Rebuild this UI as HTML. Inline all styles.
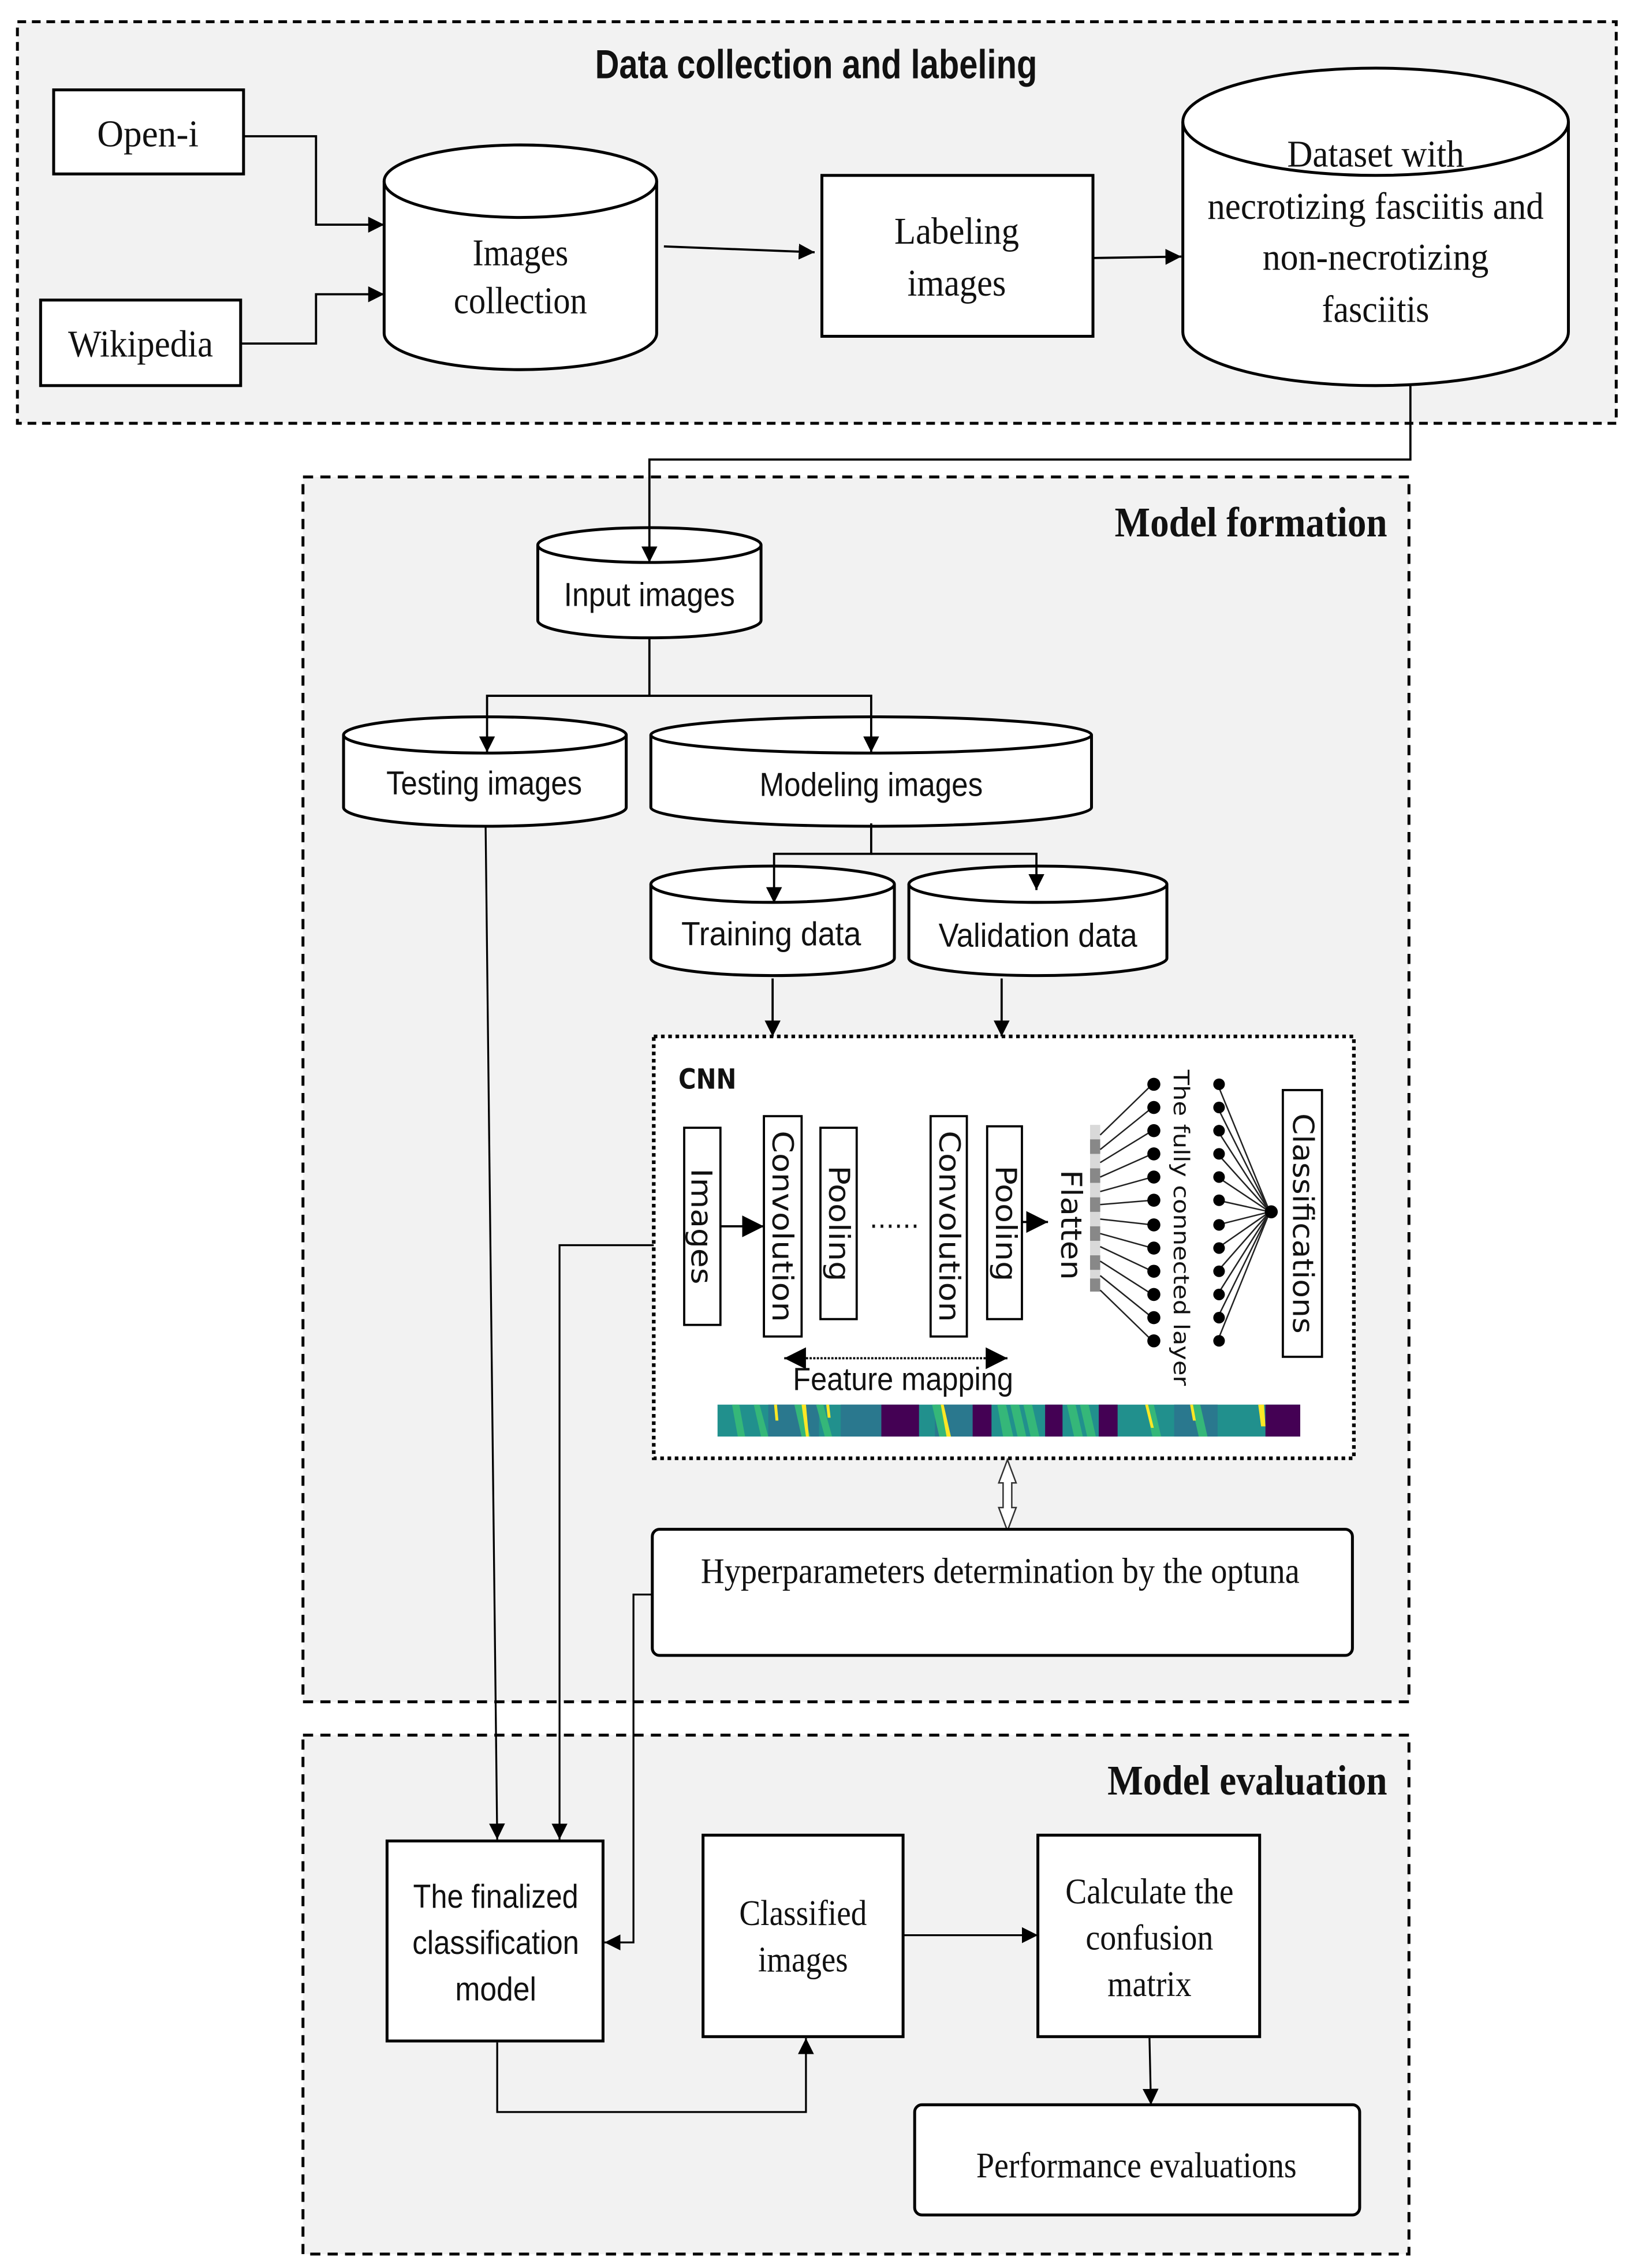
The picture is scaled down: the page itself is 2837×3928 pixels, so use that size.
<!DOCTYPE html>
<html><head><meta charset="utf-8"><style>
html,body{margin:0;padding:0;background:#fff;}
svg{display:block;}
.s{font-family:"Liberation Serif",serif;fill:#111;}
.n{font-family:"Liberation Sans Narrow","Liberation Sans",sans-serif;fill:#111;}
.d{font-family:"DejaVu Sans","Liberation Sans",sans-serif;fill:#111;}
</style></head><body>
<svg width="2837" height="3928" viewBox="0 0 1130 1564.6" xmlns="http://www.w3.org/2000/svg">
<defs>
<marker id="a" viewBox="0 0 10 10" refX="10" refY="5" markerWidth="11" markerHeight="13" markerUnits="userSpaceOnUse" orient="auto"><path d="M0,0 L10,5 L0,10 z" fill="#000"/></marker>
<marker id="b" viewBox="0 0 10 10" refX="10" refY="5" markerWidth="15" markerHeight="17" markerUnits="userSpaceOnUse" orient="auto"><path d="M0,0 L10,5 L0,10 z" fill="#000"/></marker>
<marker id="bs" viewBox="0 0 10 10" refX="0" refY="5" markerWidth="15" markerHeight="17" markerUnits="userSpaceOnUse" orient="auto"><path d="M10,0 L0,5 L10,10 z" fill="#000"/></marker>
</defs>

<!-- Panels -->
<rect x="12" y="15" width="1103" height="277" fill="#f2f2f2" stroke="#000" stroke-width="2" stroke-dasharray="6,4"/>
<rect x="209" y="329" width="763" height="845" fill="#f2f2f2" stroke="#000" stroke-width="2" stroke-dasharray="7,5"/>
<rect x="209" y="1197" width="763" height="358" fill="#f2f2f2" stroke="#000" stroke-width="2" stroke-dasharray="7,5"/>

<text class="n" x="563" y="54" font-size="28" font-weight="bold" text-anchor="middle" textLength="305" lengthAdjust="spacingAndGlyphs">Data collection and labeling</text>
<text class="s" x="957" y="370" font-size="29" font-weight="bold" text-anchor="end" textLength="188" lengthAdjust="spacingAndGlyphs">Model formation</text>
<text class="s" x="957" y="1238" font-size="29" font-weight="bold" text-anchor="end" textLength="193" lengthAdjust="spacingAndGlyphs">Model evaluation</text>

<!-- Panel 1 -->
<rect x="37" y="62" width="131" height="58" fill="#fff" stroke="#000" stroke-width="2"/>
<text class="s" x="102" y="101" font-size="26" text-anchor="middle" textLength="70" lengthAdjust="spacingAndGlyphs">Open-i</text>
<rect x="28" y="207" width="138" height="59" fill="#fff" stroke="#000" stroke-width="2"/>
<text class="s" x="97" y="246" font-size="26" text-anchor="middle" textLength="100" lengthAdjust="spacingAndGlyphs">Wikipedia</text>

<path d="M265,125 V230 A94,25 0 0 0 453,230 V125" fill="#fff" stroke="#000" stroke-width="2"/>
<ellipse cx="359" cy="125" rx="94" ry="25" fill="#fff" stroke="#000" stroke-width="2"/>
<text class="s" x="359" y="183" font-size="26" text-anchor="middle" textLength="66" lengthAdjust="spacingAndGlyphs">Images</text>
<text class="s" x="359" y="216" font-size="26" text-anchor="middle" textLength="92" lengthAdjust="spacingAndGlyphs">collection</text>

<rect x="567" y="121" width="187" height="111" fill="#fff" stroke="#000" stroke-width="2"/>
<text class="s" x="660" y="168" font-size="26" text-anchor="middle" textLength="86" lengthAdjust="spacingAndGlyphs">Labeling</text>
<text class="s" x="660" y="204" font-size="26" text-anchor="middle" textLength="68" lengthAdjust="spacingAndGlyphs">images</text>

<path d="M816,84 V229 A133,37 0 0 0 1082,229 V84" fill="#fff" stroke="#000" stroke-width="2"/>
<ellipse cx="949" cy="84" rx="133" ry="37" fill="#fff" stroke="#000" stroke-width="2"/>
<text class="s" x="949" y="115" font-size="26" text-anchor="middle" textLength="122" lengthAdjust="spacingAndGlyphs">Dataset with</text>
<text class="s" x="949" y="151" font-size="26" text-anchor="middle" textLength="232" lengthAdjust="spacingAndGlyphs">necrotizing fasciitis and</text>
<text class="s" x="949" y="186" font-size="26" text-anchor="middle" textLength="156" lengthAdjust="spacingAndGlyphs">non-necrotizing</text>
<text class="s" x="949" y="222" font-size="26" text-anchor="middle" textLength="74" lengthAdjust="spacingAndGlyphs">fasciitis</text>

<g fill="none" stroke="#000" stroke-width="1.5">
<path d="M168,94 H218 V155 H265" marker-end="url(#a)"/>
<path d="M166,237 H218 V203 H265" marker-end="url(#a)"/>
<path d="M458,170 L562,174" marker-end="url(#a)"/>
<path d="M754,178 L815,177" marker-end="url(#a)"/>
</g>

<!-- Panel 2 cylinders -->
<g fill="#fff" stroke="#000" stroke-width="2">
<path d="M371,376 V428 A77,12 0 0 0 525,428 V376"/><ellipse cx="448" cy="376" rx="77" ry="12"/>
<path d="M237,507 V557 A97.5,13 0 0 0 432,557 V507"/><ellipse cx="334.5" cy="507" rx="97.5" ry="12.5"/>
<path d="M449,507 V557 A152,13 0 0 0 753,557 V507"/><ellipse cx="601" cy="507" rx="152" ry="12.5"/>
<path d="M449,610 V661 A84,12 0 0 0 617,661 V610"/><ellipse cx="533" cy="610" rx="84" ry="12.5"/>
<path d="M627,610 V661 A89,12 0 0 0 805,661 V610"/><ellipse cx="716" cy="610" rx="89" ry="12.5"/>
</g>
<text class="n" x="448" y="418" font-size="23" text-anchor="middle" textLength="118" lengthAdjust="spacingAndGlyphs">Input images</text>
<text class="n" x="334" y="548" font-size="23" text-anchor="middle" textLength="135" lengthAdjust="spacingAndGlyphs">Testing images</text>
<text class="n" x="601" y="549" font-size="23" text-anchor="middle" textLength="154" lengthAdjust="spacingAndGlyphs">Modeling images</text>
<text class="n" x="532" y="652" font-size="23" text-anchor="middle" textLength="124" lengthAdjust="spacingAndGlyphs">Training  data</text>
<text class="n" x="716" y="653" font-size="23" text-anchor="middle" textLength="137" lengthAdjust="spacingAndGlyphs">Validation data</text>

<g fill="none" stroke="#000" stroke-width="1.5">
<path d="M973,266 V317 H448 V388" marker-end="url(#a)"/>
<path d="M448,440 V480 H336 V519" marker-end="url(#a)"/>
<path d="M448,480 H601 V519" marker-end="url(#a)"/>
<path d="M601,568 V589 H534 V623" marker-end="url(#a)"/>
<path d="M601,589 H715 V614" marker-end="url(#a)"/>
<path d="M533,675 V715" marker-end="url(#a)"/>
<path d="M691,675 V715" marker-end="url(#a)"/>
</g>

<!-- CNN box -->
<rect x="451" y="715" width="483" height="291" fill="#fff" stroke="#000" stroke-width="2.5" stroke-dasharray="2.5,2.5"/>
<text class="d" x="468" y="751" font-size="19" font-weight="bold" textLength="40" lengthAdjust="spacingAndGlyphs">CNN</text>
<g fill="#fff" stroke="#000" stroke-width="1.5">
<rect x="472" y="778" width="25" height="136"/>
<rect x="527" y="770" width="26" height="152"/>
<rect x="566" y="778" width="25" height="132"/>
<rect x="642" y="770" width="25" height="152"/>
<rect x="681" y="777" width="24" height="133"/>
<rect x="885" y="752" width="27" height="184"/>
</g>
<g class="d" font-size="20">
<text transform="translate(484,846) rotate(90)" text-anchor="middle" dominant-baseline="central" textLength="80" lengthAdjust="spacingAndGlyphs">Images</text>
<text transform="translate(540,846) rotate(90)" text-anchor="middle" dominant-baseline="central" textLength="132" lengthAdjust="spacingAndGlyphs">Convolution</text>
<text transform="translate(579,844) rotate(90)" text-anchor="middle" dominant-baseline="central" textLength="80" lengthAdjust="spacingAndGlyphs">Pooling</text>
<text transform="translate(655,846) rotate(90)" text-anchor="middle" dominant-baseline="central" textLength="132" lengthAdjust="spacingAndGlyphs">Convolution</text>
<text transform="translate(694,844) rotate(90)" text-anchor="middle" dominant-baseline="central" textLength="80" lengthAdjust="spacingAndGlyphs">Pooling</text>
<text transform="translate(739,845) rotate(90)" text-anchor="middle" dominant-baseline="central" textLength="76" lengthAdjust="spacingAndGlyphs">Flatten</text>
<text transform="translate(815,847) rotate(90)" text-anchor="middle" dominant-baseline="central" font-size="15" textLength="218" lengthAdjust="spacingAndGlyphs">The fully connected layer</text>
<text transform="translate(899,844) rotate(90)" text-anchor="middle" dominant-baseline="central" textLength="152" lengthAdjust="spacingAndGlyphs">Classifications</text>
</g>
<text class="d" x="617" y="847" font-size="18" text-anchor="middle">......</text>
<g fill="none" stroke="#000" stroke-width="1.5">
<path d="M497,846 H527" marker-end="url(#b)"/>
<path d="M705,843 H723" marker-end="url(#b)"/>
<path d="M541,937 H695" stroke-dasharray="1.5,1" marker-start="url(#bs)" marker-end="url(#b)"/>
</g>
<text class="n" x="623" y="959" font-size="22" text-anchor="middle" textLength="152" lengthAdjust="spacingAndGlyphs">Feature mapping</text>

<!-- flatten bar -->
<g>
<rect x="752" y="776" width="7" height="115" fill="#d9d9d9"/>
<rect x="752" y="786" width="7" height="10" fill="#888"/>
<rect x="752" y="806" width="7" height="10" fill="#888"/>
<rect x="752" y="826" width="7" height="10" fill="#888"/>
<rect x="752" y="846" width="7" height="10" fill="#888"/>
<rect x="752" y="866" width="7" height="10" fill="#888"/>
<rect x="752" y="882" width="7" height="9" fill="#888"/>
</g>
<g stroke="#222" stroke-width="1">
<line x1="759" y1="783" x2="795" y2="748"/><line x1="759" y1="793" x2="795" y2="764"/>
<line x1="759" y1="802" x2="795" y2="780"/><line x1="759" y1="812" x2="795" y2="796"/>
<line x1="759" y1="822" x2="795" y2="812"/><line x1="759" y1="831" x2="795" y2="828"/>
<line x1="759" y1="841" x2="795" y2="845"/><line x1="759" y1="851" x2="795" y2="861"/>
<line x1="759" y1="860" x2="795" y2="877"/><line x1="759" y1="870" x2="795" y2="893"/>
<line x1="759" y1="880" x2="795" y2="909"/><line x1="759" y1="890" x2="795" y2="925"/>
<line x1="840" y1="748" x2="876" y2="836"/><line x1="840" y1="764" x2="876" y2="836"/>
<line x1="840" y1="780" x2="876" y2="836"/><line x1="840" y1="796" x2="876" y2="836"/>
<line x1="840" y1="812" x2="876" y2="836"/><line x1="840" y1="828" x2="876" y2="836"/>
<line x1="840" y1="845" x2="876" y2="836"/><line x1="840" y1="861" x2="876" y2="836"/>
<line x1="840" y1="877" x2="876" y2="836"/><line x1="840" y1="893" x2="876" y2="836"/>
<line x1="840" y1="909" x2="876" y2="836"/><line x1="840" y1="925" x2="876" y2="836"/>
</g>
<g fill="#000">
<circle cx="796" cy="748" r="4.5"/><circle cx="796" cy="764" r="4.5"/><circle cx="796" cy="780" r="4.5"/><circle cx="796" cy="796" r="4.5"/><circle cx="796" cy="812" r="4.5"/><circle cx="796" cy="828" r="4.5"/><circle cx="796" cy="845" r="4.5"/><circle cx="796" cy="861" r="4.5"/><circle cx="796" cy="877" r="4.5"/><circle cx="796" cy="893" r="4.5"/><circle cx="796" cy="909" r="4.5"/><circle cx="796" cy="925" r="4.5"/>
<circle cx="841" cy="748" r="4"/><circle cx="841" cy="764" r="4"/><circle cx="841" cy="780" r="4"/><circle cx="841" cy="796" r="4"/><circle cx="841" cy="812" r="4"/><circle cx="841" cy="828" r="4"/><circle cx="841" cy="845" r="4"/><circle cx="841" cy="861" r="4"/><circle cx="841" cy="877" r="4"/><circle cx="841" cy="893" r="4"/><circle cx="841" cy="909" r="4"/><circle cx="841" cy="925" r="4"/>
<circle cx="877" cy="836" r="4.5"/>
</g>

<!-- heatmap -->
<g>
<rect x="495" y="969" width="402" height="22" fill="#21908d"/>
<rect x="530" y="969" width="35" height="22" fill="#2a788e"/>
<rect x="580" y="969" width="28" height="22" fill="#2a788e"/>
<rect x="608" y="969" width="26" height="22" fill="#440154"/>
<rect x="645" y="969" width="26" height="22" fill="#2a788e"/>
<rect x="671" y="969" width="13" height="22" fill="#440154"/>
<rect x="721" y="969" width="12" height="22" fill="#440154"/>
<rect x="758" y="969" width="13" height="22" fill="#440154"/>
<rect x="810" y="969" width="30" height="22" fill="#2a788e"/>
<rect x="873" y="969" width="24" height="22" fill="#440154"/>
<g fill="#35b779">
<polygon points="505,969 510,969 514,991 509,991"/><polygon points="520,969 524,969 530,991 525,991"/>
<polygon points="548,969 553,969 559,991 553,991"/><polygon points="563,969 568,969 574,991 569,991"/>
<polygon points="643,969 650,969 656,991 648,991"/><polygon points="688,969 694,969 699,991 692,991"/>
<polygon points="697,969 703,969 708,991 702,991"/><polygon points="706,969 712,969 717,991 711,991"/>
<polygon points="736,969 742,969 747,991 741,991"/><polygon points="745,969 751,969 756,991 750,991"/>
<polygon points="790,969 796,969 801,991 795,991"/><polygon points="822,969 828,969 833,991 827,991"/>
</g>
<g fill="#fde725">
<polygon points="534,969 536,969 537,980 535,980"/><polygon points="553,969 556,969 558,991 556,991"/>
<polygon points="570,969 572,969 573,978 571,978"/><polygon points="649,969 651,969 656,991 653,991"/>
<polygon points="790,969 792,969 796,985 794,985"/><polygon points="821,969 823,969 825,980 823,980"/>
<polygon points="868,969 872,969 873,984 870,984"/>
</g>
</g>

<!-- double hollow arrow -->
<path d="M695,1007 L701,1023 H698 V1040 H701 L695,1056 L689,1040 H692 V1023 H689 Z" fill="#fff" stroke="#333" stroke-width="1"/>

<rect x="450" y="1055" width="483" height="87" rx="5" fill="#fff" stroke="#000" stroke-width="2"/>
<text class="s" x="690" y="1092" font-size="25" text-anchor="middle" textLength="413" lengthAdjust="spacingAndGlyphs">Hyperparameters  determination  by the optuna</text>

<!-- connectors to evaluation -->
<g fill="none" stroke="#000" stroke-width="1.3">
<path d="M335,570 L343,1269" marker-end="url(#a)"/>
<path d="M451,859 H386 V1269" marker-end="url(#a)"/>
<path d="M450,1100 H437 V1340 H417" marker-end="url(#a)"/>
<path d="M343,1409 V1457 H556 V1406" marker-end="url(#a)"/>
<path d="M623,1335 H716" marker-end="url(#a)"/>
<path d="M793,1406 L794,1452" marker-end="url(#a)"/>
</g>

<!-- evaluation boxes -->
<rect x="267" y="1270" width="149" height="138" fill="#fff" stroke="#000" stroke-width="2"/>
<text class="n" x="342" y="1316" font-size="23" text-anchor="middle" textLength="114" lengthAdjust="spacingAndGlyphs">The finalized</text>
<text class="n" x="342" y="1348" font-size="23" text-anchor="middle" textLength="115" lengthAdjust="spacingAndGlyphs">classification</text>
<text class="n" x="342" y="1380" font-size="23" text-anchor="middle" textLength="56" lengthAdjust="spacingAndGlyphs">model</text>

<rect x="485" y="1266" width="138" height="139" fill="#fff" stroke="#000" stroke-width="2"/>
<text class="s" x="554" y="1328" font-size="25" text-anchor="middle" textLength="88" lengthAdjust="spacingAndGlyphs">Classified</text>
<text class="s" x="554" y="1360" font-size="25" text-anchor="middle" textLength="62" lengthAdjust="spacingAndGlyphs">images</text>

<rect x="716" y="1266" width="153" height="139" fill="#fff" stroke="#000" stroke-width="2"/>
<text class="s" x="793" y="1313" font-size="25" text-anchor="middle" textLength="116" lengthAdjust="spacingAndGlyphs">Calculate the</text>
<text class="s" x="793" y="1345" font-size="25" text-anchor="middle" textLength="88" lengthAdjust="spacingAndGlyphs">confusion</text>
<text class="s" x="793" y="1377" font-size="25" text-anchor="middle" textLength="58" lengthAdjust="spacingAndGlyphs">matrix</text>

<rect x="631" y="1452" width="307" height="76" rx="5" fill="#fff" stroke="#000" stroke-width="2"/>
<text class="s" x="784" y="1502" font-size="25" text-anchor="middle" textLength="221" lengthAdjust="spacingAndGlyphs">Performance evaluations</text>
</svg>
</body></html>
